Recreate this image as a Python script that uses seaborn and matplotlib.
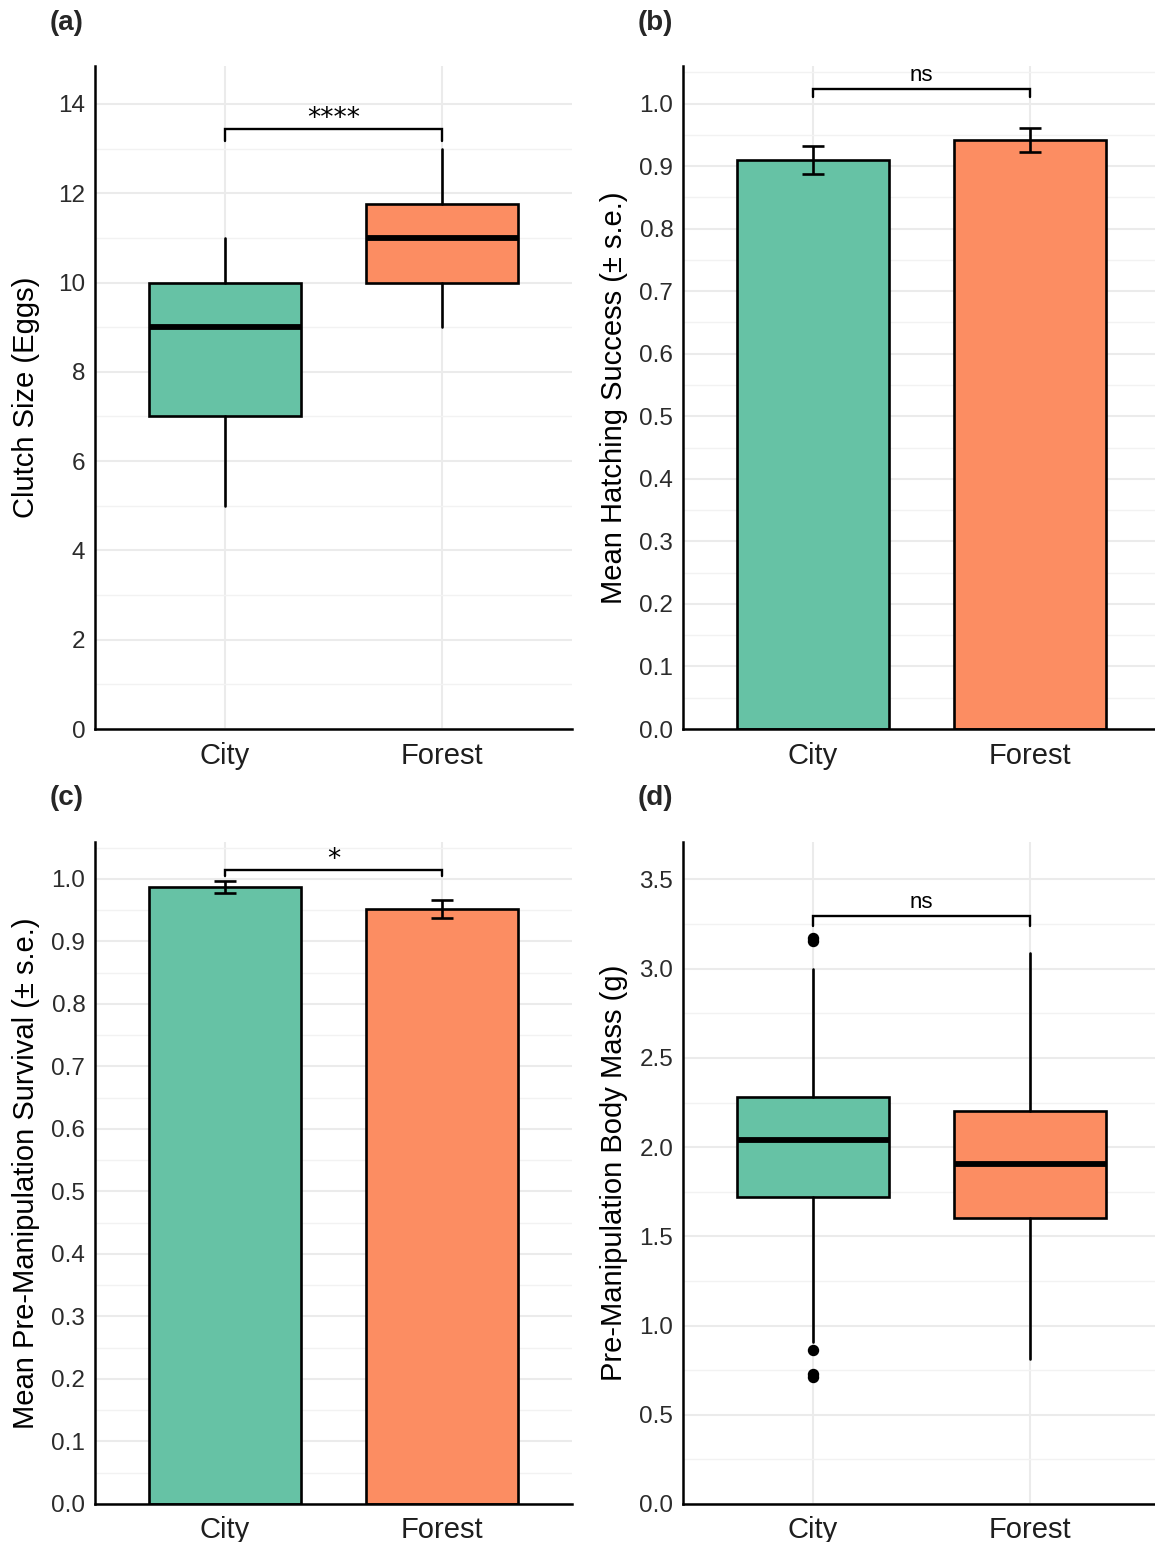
import numpy as np
import pandas as pd
import matplotlib
matplotlib.use("Agg")
import matplotlib.pyplot as plt
from matplotlib.ticker import MultipleLocator
import seaborn as sns

# ---------------- data ----------------
sites = ["City", "Forest"]
colors = ["#66C2A5", "#FC8D62"]

# (a) clutch size box summaries: whislo, q1, med, q3, whishi
clutch_whislo = [5, 9]
clutch_q1 = [7, 10]
clutch_med = [9, 11]
clutch_q3 = [10, 11.75]
clutch_whishi = [11, 13]
clutch_fliers = [[], []]

# (b) hatching success
hatch_mean = [0.910, 0.942]
hatch_se = [0.0225, 0.0195]

# (c) pre-manipulation survival
surv_mean = [0.987, 0.952]
surv_se = [0.010, 0.015]

# (d) body mass box summaries
mass_whislo = [0.91, 0.81]
mass_q1 = [1.72, 1.605]
mass_med = [2.04, 1.905]
mass_q3 = [2.28, 2.20]
mass_whishi = [3.00, 3.09]
mass_fliers = [[3.17, 3.155, 0.865, 0.73, 0.71], []]

# significance labels
sig_labels = ["****", "ns", "*", "ns"]

# ---------------- style ----------------
sns.set_theme(style="white")
plt.rcParams["font.family"] = ["Liberation Sans", "DejaVu Sans"]

W, H = 1155, 1542
fig = plt.figure(figsize=(W / 100, H / 100), dpi=100)

def add_ax(l, r, t, b):
    return fig.add_axes([l / W, 1 - b / H, (r - l) / W, (b - t) / H])

axA = add_ax(95, 572, 66, 729)
axB = add_ax(683, 1155, 66, 729)
axC = add_ax(95, 572, 842, 1504)
axD = add_ax(683, 1155, 842, 1504)

GRID = "#EBEBEB"

def style_ax(ax, ylim, major, minor, ylabel, xright=1.6):
    ax.set_xlim(-0.6, xright)
    ax.set_ylim(*ylim)
    ax.yaxis.set_major_locator(MultipleLocator(major))
    ax.yaxis.set_minor_locator(MultipleLocator(minor))
    ax.set_xticks([0, 1])
    ax.set_xticklabels(sites)
    ax.set_axisbelow(True)
    ax.grid(False)
    ax.yaxis.grid(True, which="major", color=GRID, linewidth=1.5)
    ax.yaxis.grid(True, which="minor", color="#F2F2F2", linewidth=1.0)
    ax.xaxis.grid(True, which="major", color=GRID, linewidth=1.5)
    for s in ["top", "right"]:
        ax.spines[s].set_visible(False)
    for s in ["left", "bottom"]:
        ax.spines[s].set_visible(True)
        ax.spines[s].set_color("black")
        ax.spines[s].set_linewidth(1.8)
    ax.tick_params(axis="both", which="both", length=0)
    ax.tick_params(axis="x", labelsize=21, labelcolor="#1E1E1E", pad=9)
    ax.tick_params(axis="y", labelsize=17.5, labelcolor="#2B2B2B", pad=7)
    ax.set_xlabel("")
    ax.set_ylabel(ylabel, fontsize=21, color="black")

def draw_box(ax, whislo, q1, med, q3, whishi, fliers):
    stats = []
    for i in range(len(sites)):
        stats.append(dict(whislo=whislo[i], q1=q1[i], med=med[i], q3=q3[i],
                          whishi=whishi[i], fliers=fliers[i], label=sites[i]))
    bp = ax.bxp(stats, positions=[0, 1], widths=0.7, patch_artist=True,
                showcaps=False,
                boxprops=dict(edgecolor="black", linewidth=1.9),
                whiskerprops=dict(color="black", linewidth=1.9),
                medianprops=dict(color="black", linewidth=4.2),
                flierprops=dict(marker="o", markerfacecolor="black",
                                markeredgecolor="black", markersize=7.2))
    for patch, c in zip(bp["boxes"], colors):
        patch.set_facecolor(c)
        patch.set_zorder(2)

def draw_bars(ax, means, se):
    df = pd.DataFrame({"site": sites, "value": means})
    sns.barplot(data=df, x="site", y="value", hue="site", palette=colors,
                saturation=1, width=0.7, edgecolor="black", linewidth=1.9,
                legend=False, errorbar=None, ax=ax, zorder=2)
    ax.errorbar([0, 1], means, yerr=se, fmt="none", ecolor="black",
                elinewidth=1.9, capsize=8, capthick=1.9, zorder=3)

def bracket(ax, y, leg, label, fs, family, off):
    ax.plot([0, 0, 1, 1], [leg, y, y, leg], color="black", linewidth=1.7,
            solid_joinstyle="miter", zorder=4)
    ax.annotate(label, xy=(0.5, y), xytext=(0, off), textcoords="offset points",
                ha="center", va="bottom", fontsize=fs, color="black", family=family)

# (a)
draw_box(axA, clutch_whislo, clutch_q1, clutch_med, clutch_q3, clutch_whishi, clutch_fliers)
style_ax(axA, (0, 14.85), 2, 1, "Clutch Size (Eggs)")
bracket(axA, 13.44, 13.17, sig_labels[0], 19, ["DejaVu Sans"], -2)

# (b)
draw_bars(axB, hatch_mean, hatch_se)
style_ax(axB, (0, 1.06), 0.1, 0.05, "Mean Hatching Success (\u00b1 s.e.)", xright=1.578)
bracket(axB, 1.024, 1.010, sig_labels[1], 16, ["Liberation Sans"], 2)

# (c)
draw_bars(axC, surv_mean, surv_se)
style_ax(axC, (0, 1.059), 0.1, 0.05, "Mean Pre-Manipulation Survival (\u00b1 s.e.)")
bracket(axC, 1.014, 1.005, sig_labels[2], 19, ["DejaVu Sans"], -2)

# (d)
draw_box(axD, mass_whislo, mass_q1, mass_med, mass_q3, mass_whishi, mass_fliers)
style_ax(axD, (0, 3.71), 0.5, 0.25, "Pre-Manipulation Body Mass (g)", xright=1.578)
bracket(axD, 3.295, 3.24, sig_labels[3], 16, ["Liberation Sans"], 2)

# y tick formatting
axA.set_yticklabels([f"{int(v)}" for v in axA.get_yticks()])
for ax in (axB, axC, axD):
    ax.set_yticklabels([f"{v:.1f}" for v in ax.get_yticks()])
for ax, lim in ((axA, (0, 14.85)), (axB, (0, 1.06)), (axC, (0, 1.059)), (axD, (0, 3.71))):
    ax.set_ylim(*lim)

# place ylabels (right edge of rotated text)
for ax, xpix in ((axA, 40), (axC, 40), (axB, 628), (axD, 628)):
    pos = ax.get_position()
    ax.yaxis.set_label_coords((xpix - pos.x0 * W) / (pos.width * W), 0.5)

# panel tags
for tag, x, y in (("(a)", 50, 23), ("(b)", 638, 23), ("(c)", 50, 798), ("(d)", 638, 798)):
    fig.text(x / W, 1 - y / H, tag, fontsize=20, fontweight="bold", ha="left", va="center")

fig.savefig("out.png", dpi=100)
